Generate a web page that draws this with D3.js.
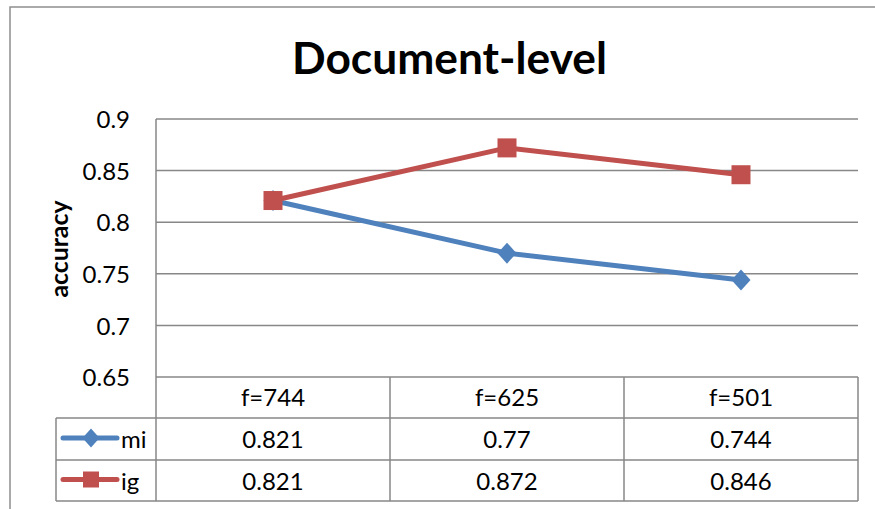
<!DOCTYPE html>
<html>
<head>
<meta charset="utf-8">
<script src="https://cdn.jsdelivr.net/npm/d3@7"></script>
<style>
  html, body { margin: 0; padding: 0; background: #fff; overflow: hidden; }
  svg { display: block; font-family: Lato, "Open Sans", sans-serif; }
</style>
</head>
<body>
<svg id="chart" width="875" height="509"></svg>
<script>
// ---- data ----
const title = "Document-level";
const yLabel = "accuracy";
const categories = ["f=744", "f=625", "f=501"];
const seriesNames = ["mi", "ig"];
const miValues = [0.821, 0.77, 0.744];
const igValues = [0.821, 0.872, 0.846];
const yTicks = [0.65, 0.7, 0.75, 0.8, 0.85, 0.9];

const series = [
  { name: seriesNames[0], values: miValues, color: "#4F81BD", marker: "diamond" },
  { name: seriesNames[1], values: igValues, color: "#C0504D", marker: "square" }
];

const svg = d3.select("#chart");
const gridColor = "#878787";
const fs = 24;

// frame (left and top edges visible; the rest extends past the picture)
svg.append("path").attr("d", "M10,520V7H880").attr("fill", "none")
  .attr("stroke", "#8f8f8f").attr("stroke-width", 1.5);

const plotLeft = 156, plotRight = 858, plotTop = 119, plotBottom = 377;
const x = d3.scaleBand().domain(categories).range([plotLeft, plotRight]);
const y = d3.scaleLinear().domain([0.65, 0.9]).range([plotBottom, plotTop]);

function fitText(sel, target) {
  let f = parseFloat(sel.attr("font-size"));
  const w = sel.node().getComputedTextLength();
  if (w > 0) sel.attr("font-size", f * target / w);
}

// title
const t = svg.append("text").attr("x", 449.5).attr("y", 73.5).attr("text-anchor", "middle")
  .attr("font-size", 40).attr("font-weight", "bold").attr("fill", "#000").text(title);
fitText(t, 315);

// gridlines
svg.append("g").selectAll("line").data(yTicks.filter(v => v > 0.65)).join("line")
  .attr("x1", plotLeft).attr("x2", plotRight)
  .attr("y1", d => y(d)).attr("y2", d => y(d))
  .attr("stroke", gridColor).attr("stroke-width", 1.5);

// y axis tick labels
const yAxis = d3.axisLeft(y).tickValues(yTicks).tickSize(0).tickPadding(0)
  .tickFormat(d => String(d));
const ya = svg.append("g").attr("transform", `translate(130,0)`).call(yAxis);
ya.select(".domain").remove();
ya.selectAll("text").attr("font-size", fs).attr("font-family", "Lato, sans-serif")
  .attr("fill", "#000").attr("dy", "0.36em");

// y axis title
const yt = svg.append("text").attr("transform", "translate(68,249) rotate(-90)")
  .attr("text-anchor", "middle").attr("font-size", 20).attr("font-weight", "bold")
  .attr("fill", "#000").text(yLabel);
fitText(yt, 97);

// data table
const rowH = [377, 418, 460, 501];
const legendLeft = 56;
const tg = svg.append("g").attr("stroke", gridColor).attr("stroke-width", 1.5);
tg.append("line").attr("x1", plotLeft).attr("x2", plotRight).attr("y1", rowH[0]).attr("y2", rowH[0]);
rowH.slice(1).forEach(r => {
  tg.append("line").attr("x1", legendLeft).attr("x2", plotRight).attr("y1", r).attr("y2", r);
});
tg.append("line").attr("x1", plotLeft).attr("x2", plotLeft).attr("y1", plotTop).attr("y2", rowH[3]);
tg.append("line").attr("x1", legendLeft).attr("x2", legendLeft).attr("y1", rowH[1]).attr("y2", rowH[3]);
categories.forEach(c => {
  const xr = x(c) + x.bandwidth();
  tg.append("line").attr("x1", xr).attr("x2", xr).attr("y1", rowH[0]).attr("y2", rowH[3]);
});

// header texts
svg.append("g").selectAll("text").data(categories).join("text")
  .attr("x", d => x(d) + x.bandwidth() / 2).attr("y", (rowH[0] + rowH[1]) / 2 + 8.5)
  .attr("text-anchor", "middle").attr("font-size", fs).attr("fill", "#000").text(d => d);

function drawMarker(g, type, cx, cy, size, color) {
  if (type === "square") {
    g.append("rect").attr("x", cx - size / 2).attr("y", cy - size / 2)
      .attr("width", size).attr("height", size).attr("fill", color);
  } else {
    const h = size / 2 + 1.5;
    g.append("path").attr("d", `M${cx},${cy - h}L${cx + h - 1},${cy}L${cx},${cy + h}L${cx - h + 1},${cy}Z`)
      .attr("fill", color);
  }
}

// value rows + legend keys
series.forEach((s, i) => {
  const top = rowH[i + 1], bot = rowH[i + 2];
  const cy = (top + bot) / 2;
  svg.append("g").selectAll("text").data(s.values).join("text")
    .attr("x", (d, j) => x(categories[j]) + x.bandwidth() / 2).attr("y", cy + 9)
    .attr("text-anchor", "middle").attr("font-size", fs).attr("fill", "#000").text(d => String(d));
  const ly = cy - 1;
  svg.append("line").attr("x1", 63).attr("x2", 117).attr("y1", ly).attr("y2", ly)
    .attr("stroke", s.color).attr("stroke-width", 5).attr("stroke-linecap", "round");
  drawMarker(svg, s.marker, 91, ly, 16, s.color);
  svg.append("text").attr("x", 121).attr("y", cy + 9).attr("font-size", fs)
    .attr("fill", "#000").text(s.name);
});

// lines
const line = d3.line().x((d, j) => x(categories[j]) + x.bandwidth() / 2).y(d => y(d));
series.forEach(s => {
  svg.append("path").datum(s.values).attr("d", line).attr("fill", "none")
    .attr("stroke", s.color).attr("stroke-width", 5).attr("stroke-linejoin", "round");
});
series.forEach(s => {
  s.values.forEach((v, j) => {
    drawMarker(svg, s.marker, x(categories[j]) + x.bandwidth() / 2, y(v), s.marker === "square" ? 19 : 18, s.color);
  });
});
</script>
</body>
</html>
